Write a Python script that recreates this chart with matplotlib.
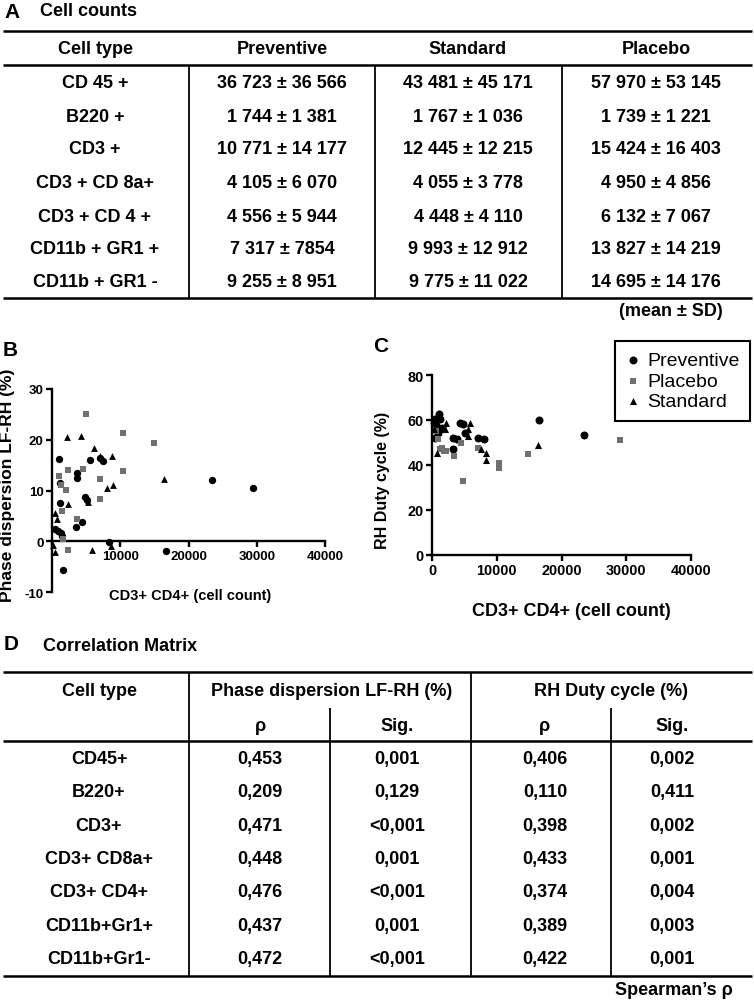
import matplotlib
matplotlib.use("Agg")
import matplotlib.pyplot as plt
from matplotlib import font_manager as fm

# ---------------- data ----------------
cell_types_a = ["CD 45 +", "B220 +", "CD3 +", "CD3 + CD 8a+", "CD3 + CD 4 +",
                "CD11b + GR1 +", "CD11b + GR1 -"]
groups_a = ["Preventive", "Standard", "Placebo"]
preventive_counts = ["36 723 ± 36 566", "1 744 ± 1 381", "10 771 ± 14 177", "4 105 ± 6 070",
                     "4 556 ± 5 944", "7 317 ± 7854", "9 255 ± 8 951"]
standard_counts = ["43 481 ± 45 171", "1 767 ± 1 036", "12 445 ± 12 215", "4 055 ± 3 778",
                   "4 448 ± 4 110", "9 993 ± 12 912", "9 775 ± 11 022"]
placebo_counts = ["57 970 ± 53 145", "1 739 ± 1 221", "15 424 ± 16 403", "4 950 ± 4 856",
                  "6 132 ± 7 067", "13 827 ± 14 219", "14 695 ± 14 176"]

cell_types_d = ["CD45+", "B220+", "CD3+", "CD3+ CD8a+", "CD3+ CD4+", "CD11b+Gr1+", "CD11b+Gr1-"]
rho_phase = ["0,453", "0,209", "0,471", "0,448", "0,476", "0,437", "0,472"]
sig_phase = ["0,001", "0,129", "<0,001", "0,001", "<0,001", "0,001", "<0,001"]
rho_duty = ["0,406", "0,110", "0,398", "0,433", "0,374", "0,389", "0,422"]
sig_duty = ["0,002", "0,411", "0,002", "0,001", "0,004", "0,003", "0,001"]

# panel B: CD3+CD4+ count vs phase dispersion LF-RH (%)
b_prev_x = [1000, 1100, 1100, 500, 900, 1300, 1500, 1600, 3600, 3600, 3500, 4400,
            4800, 5200, 5600, 7000, 7400, 8300, 16700, 23500, 29500]
b_prev_y = [16.2, 11.5, 7.5, 2.5, 2.0, 1.6, 1.0, -5.6, 13.4, 12.4, 2.9, 3.9,
            8.7, 8.2, 16.1, 16.4, 15.8, -0.1, -1.8, 12.1, 10.6]
b_plac_x = [5000, 10400, 15000, 2300, 4500, 10400, 1000, 7100, 1300, 2000, 7100,
            1500, 3600, 1600, 2300]
b_plac_y = [25.1, 21.4, 19.4, 14.1, 14.3, 13.9, 12.8, 12.3, 11.1, 10.1, 8.4,
            6.0, 4.4, 0.5, -1.6]
b_std_x = [2200, 4300, 6100, 8800, 7000, 16400, 8900, 8100, 2400, 5300, 400, 700,
           100, 400, 5800, 8600]
b_std_y = [20.5, 20.7, 18.4, 16.9, 16.8, 12.3, 11.1, 10.5, 7.3, 7.8, 5.7, 4.5,
           -0.7, -2.0, -1.7, -0.9]

# panel C: CD3+CD4+ count vs RH duty cycle (%)
c_prev_x = [1100, 500, 300, 1300, 4400, 4800, 3300, 3900, 3200, 7100, 8100, 5100,
            1000, 500, 16600, 23500, 1500]
c_prev_y = [62.8, 60.6, 58.8, 60.3, 58.5, 58.1, 52.1, 51.3, 47.2, 52.1, 51.3, 54.3,
            54.3, 52.0, 60.0, 53.2, 56.5]
c_plac_x = [4800, 10300, 10300, 14800, 3400, 1800, 1300, 1000, 7100, 4500, 29000,
            1500, 600, 2200]
c_plac_y = [33.0, 40.9, 38.8, 44.7, 43.9, 46.1, 46.9, 51.3, 47.6, 49.6, 50.9,
            47.6, 55.0, 46.0]
c_std_x = [2100, 5900, 5500, 5600, 7600, 8400, 8400, 800, 16300, 2000, 300, 1000]
c_std_y = [58.8, 58.8, 55.8, 52.8, 47.2, 45.4, 42.1, 45.4, 48.9, 56.0, 56.0, 58.0]

xticks = [0, 10000, 20000, 30000, 40000]


def has_font(name):
    try:
        fm.findfont(fm.FontProperties(family=name), fallback_to_default=False)
        return True
    except ValueError:
        return False


NARROW = has_font("Liberation Sans Narrow")
NFAM = "Liberation Sans Narrow" if NARROW else "Liberation Sans"

plt.rcParams["font.family"] = ["Liberation Sans", "DejaVu Sans"]
GREY = "#707070"

fig = plt.figure(figsize=(7.54, 10.04), dpi=100)

# overlay in pixel coordinates for the two tables
tab = fig.add_axes([0, 0, 1, 1])
tab.set_xlim(0, 754)
tab.set_ylim(1004, 0)
tab.axis("off")

TFS = 13
kw = dict(ha="center", va="center", fontsize=TFS, fontweight="bold")

# ---------------- panel A ----------------
tab.text(4, 12, "A", ha="left", va="center", fontsize=15, fontweight="bold")
tab.text(40, 12, "Cell counts", ha="left", va="center", fontsize=TFS, fontweight="bold")
tab.hlines([32, 66, 299], 3, 752, color="black", lw=1.8)
tab.vlines([189, 375, 562], 66, 299, color="black", lw=1.3)
col_x = [95, 282, 468, 656]
tab.text(col_x[0], 49, "Cell type", **kw)
for cx, g in zip(col_x[1:], groups_a):
    tab.text(cx, 49, g, **kw)
row_y_a = [83, 117, 150, 183, 217, 250, 283]
for i, ry in enumerate(row_y_a):
    tab.text(col_x[0], ry, cell_types_a[i], **kw)
    tab.text(col_x[1], ry, preventive_counts[i], **kw)
    tab.text(col_x[2], ry, standard_counts[i], **kw)
    tab.text(col_x[3], ry, placebo_counts[i], **kw)
tab.text(723, 312, "(mean ± SD)", ha="right", va="center", fontsize=TFS, fontweight="bold")

# ---------------- panel D ----------------
tab.text(4, 645, "D", ha="left", va="center", fontsize=15, fontweight="bold")
tab.text(43, 647, "Correlation Matrix", ha="left", va="center", fontsize=TFS, fontweight="bold")
tab.hlines([673, 742, 977], 3, 752, color="black", lw=1.8)
tab.vlines([189, 471], 673, 977, color="black", lw=1.3)
tab.vlines([330, 611], 709, 977, color="black", lw=1.3)
tab.text(99, 692, "Cell type", **kw)
tab.text(332, 692, "Phase dispersion LF-RH (%)", **kw)
tab.text(611, 692, "RH Duty cycle (%)", **kw)
dcol = [99, 260, 397, 545, 672]
for cx, h in zip(dcol[1:], ["ρ", "Sig.", "ρ", "Sig."]):
    tab.text(cx, 727, h, **kw)
row_y_d = [760, 793, 827, 860, 893, 927, 960]
for i, ry in enumerate(row_y_d):
    tab.text(dcol[0], ry, cell_types_d[i], **kw)
    tab.text(dcol[1], ry, rho_phase[i], **kw)
    tab.text(dcol[2], ry, sig_phase[i], **kw)
    tab.text(dcol[3], ry, rho_duty[i], **kw)
    tab.text(dcol[4], ry, sig_duty[i], **kw)
tab.text(733, 991, "Spearman’s ρ", ha="right", va="center", fontsize=TFS, fontweight="bold")


def px_axes(x0, x1, ytop, ybot):
    return fig.add_axes([x0 / 754, 1 - ybot / 1004, (x1 - x0) / 754, (ybot - ytop) / 1004])


def style(ax):
    for s in ["top", "right"]:
        ax.spines[s].set_visible(False)
    for s in ["left", "bottom"]:
        ax.spines[s].set_linewidth(1.7)
    ax.tick_params(direction="out", length=4, width=1.7, pad=2)


# ---------------- panel B ----------------
axB = px_axes(52, 325, 390, 593.3)
axB.set_xlim(0, 40000)
axB.set_ylim(-10, 30)
style(axB)
axB.spines["bottom"].set_position(("data", 0))
bfs = 11 if NARROW else 9.5
axB.set_xticks(xticks, [""] + [str(t) for t in xticks[1:]], fontsize=bfs,
               fontweight="bold", family=NFAM)
axB.set_yticks([-10, 0, 10, 20, 30], ["-10", "0", "10", "20", "30"], fontsize=bfs,
               fontweight="bold", family=NFAM)
axB.scatter(b_prev_x, b_prev_y, s=28, marker="o", color="black", lw=0, clip_on=False, zorder=3)
axB.scatter(b_plac_x, b_plac_y, s=20, marker="s", color=GREY, lw=0, clip_on=False, zorder=3)
axB.scatter(b_std_x, b_std_y, s=24, marker="^", color="black", lw=0, clip_on=False, zorder=3)
axB.set_xlabel("CD3+ CD4+ (cell count)", fontsize=12.7 if NARROW else 10.5,
               fontweight="bold", family=NFAM)
axB.xaxis.set_label_coords(0.505, 0.02)
axB.set_ylabel("Phase dispersion LF-RH (%)", fontsize=12.5, fontweight="bold")
axB.yaxis.set_label_coords(-0.136, 0.533)
fig.text(3 / 754, 1 - 351 / 1004, "B", ha="left", va="center", fontsize=15, fontweight="bold")

# ---------------- panel C ----------------
axC = px_axes(432, 691, 376, 555.7)
axC.set_xlim(0, 40000)
axC.set_ylim(0, 80)
style(axC)
axC.set_xticks(xticks, [str(t) for t in xticks], fontsize=10.4, fontweight="bold")
axC.set_yticks([0, 20, 40, 60, 80], ["0", "20", "40", "60", "80"], fontsize=10.4,
               fontweight="bold")
axC.scatter(c_prev_x, c_prev_y, s=33, marker="o", color="black", lw=0, clip_on=False,
            zorder=3, label="Preventive")
axC.scatter(c_plac_x, c_plac_y, s=23, marker="s", color=GREY, lw=0, clip_on=False,
            zorder=3, label="Placebo")
axC.scatter(c_std_x, c_std_y, s=26, marker="^", color="black", lw=0, clip_on=False,
            zorder=3, label="Standard")
axC.set_xlabel("CD3+ CD4+ (cell count)", fontsize=13, fontweight="bold")
axC.xaxis.set_label_coords(0.537, -0.263)
axC.set_ylabel("RH Duty cycle (%)", fontsize=11.5, fontweight="bold")
axC.yaxis.set_label_coords(-0.162, 0.421)
fig.text(373 / 754, 1 - 346 / 1004, "C", ha="left", va="center", fontsize=15, fontweight="bold")

leg = axC.legend(loc="upper right", bbox_to_anchor=(750 / 754, 1 - 342 / 1004),
                 bbox_transform=fig.transFigure, fontsize=14, frameon=True,
                 fancybox=False, framealpha=1, edgecolor="black", borderpad=0.55,
                 labelspacing=0.15, handlelength=0.8, handletextpad=0.3,
                 borderaxespad=0, scatterpoints=1)
leg.get_frame().set_linewidth(1.5)

fig.savefig("out.png", dpi=100)
